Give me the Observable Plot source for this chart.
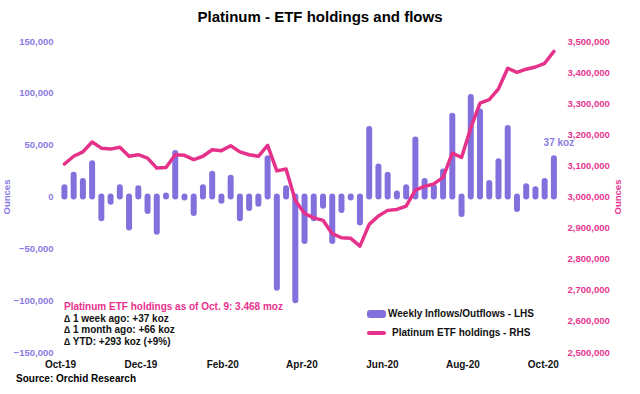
<!DOCTYPE html>
<html>
<head>
<meta charset="utf-8">
<script src="https://cdn.jsdelivr.net/npm/d3@7"></script>
<script src="https://cdn.jsdelivr.net/npm/@observablehq/plot@0.6"></script>
<style>
  body { margin: 0; background: #fff; font-family: "Liberation Sans", Arial, sans-serif; }
  #wrap { position: relative; width: 640px; height: 394px; overflow: hidden; }
  #title { height: 34px; line-height: 34px; text-align: center; font-weight: bold; font-size: 15px; color: #000; }
  #source { position: absolute; left: 16px; top: 373px; font-weight: bold; font-size: 10px; color: #000; line-height: 12px; }
  .ann { position: absolute; left: 64px; top: 301px; font-weight: bold; font-size: 10px; line-height: 11.7px; color: #111; }
  .ann .hl { color: #e8318d; }
  .lg { position: absolute; font-weight: bold; font-size: 10px; color: #111; line-height: 12px; }
  .sw1 { position: absolute; left: 367px; top: 310px; width: 19px; height: 8px; border-radius: 3px; background: #8470dd; }
  .sw2 { position: absolute; left: 367px; top: 331px; width: 19px; height: 4px; border-radius: 2px; background: #e5318a; }
  svg text { font-weight: bold; }
</style>
</head>
<body>
<div id="wrap">
  <div id="title">Platinum - ETF holdings and flows</div>
  <div id="chart"></div>
  <div class="ann"><span class="hl">Platinum ETF holdings as of Oct. 9: 3.468 moz</span><br>∆ 1 week ago: +37 koz<br>∆ 1 month ago: +66 koz<br>∆ YTD: +293 koz (+9%)</div>
  <div class="sw1"></div>
  <div class="lg" style="left:388px; top:308px;">Weekly Inflows/Outflows - LHS</div>
  <div class="sw2"></div>
  <div class="lg" style="left:392px; top:327px;">Platinum ETF holdings - RHS</div>
  <div id="source">Source: Orchid Research</div>
</div>
<script>
// Weekly dates (Fridays)
const weeks = [
  "2019-10-04","2019-10-11","2019-10-18","2019-10-25","2019-11-01","2019-11-08","2019-11-15","2019-11-22","2019-11-29",
  "2019-12-06","2019-12-13","2019-12-20","2019-12-27","2020-01-03","2020-01-10","2020-01-17","2020-01-24","2020-01-31",
  "2020-02-07","2020-02-14","2020-02-21","2020-02-28","2020-03-06","2020-03-13","2020-03-20","2020-03-27",
  "2020-04-03","2020-04-10","2020-04-17","2020-04-24","2020-05-01","2020-05-08","2020-05-15","2020-05-22","2020-05-29",
  "2020-06-05","2020-06-12","2020-06-19","2020-06-26","2020-07-03","2020-07-10","2020-07-17","2020-07-24","2020-07-31",
  "2020-08-07","2020-08-14","2020-08-21","2020-08-28","2020-09-04","2020-09-11","2020-09-18","2020-09-25",
  "2020-10-02","2020-10-09"
];
// Weekly inflows/outflows (ounces, LHS)
const flows = [
  9000, 21000, 15000, 32000, -21000, -5000, 9000, -30000, 8000, -14000,
  -34000, 1000, 42000, -1000, -16000, 9000, 22000, -4000, 18000, -21000,
  -11000, -7000, 37000, -88000, 8000, -100000, -43000, -21000, -9000, -43000,
  -13000, -1000, -25000, 65000, 29000, 21000, 3000, 9000, 55000, 15000,
  9000, 24000, 78000, -17000, 96000, 82000, 13000, 34000, 66000, -12000,
  10000, 7000, 15000, 37000
];
// Platinum ETF holdings (ounces, RHS)
const holdings = [
  3106000, 3131000, 3145000, 3177000, 3157000, 3154000, 3160000, 3131000, 3136000, 3125000,
  3093000, 3095000, 3136000, 3134000, 3120000, 3131000, 3152000, 3149000, 3165000, 3145000,
  3136000, 3131000, 3166000, 3084000, 3090000, 2989000, 2947000, 2933000, 2925000, 2882000,
  2869000, 2867000, 2842000, 2912000, 2939000, 2957000, 2960000, 2971000, 3022000, 3034000,
  3042000, 3063000, 3141000, 3127000, 3222000, 3302000, 3313000, 3348000, 3414000, 3401000,
  3411000, 3418000, 3430000, 3468000
];
const leftTicks = [-150000, -100000, -50000, 0, 50000, 100000, 150000];
const rightTicks = [2500000, 2600000, 2700000, 2800000, 2900000, 3000000, 3100000, 3200000, 3300000, 3400000, 3500000];
const xTickDates = ["2019-10-01","2019-12-01","2020-02-01","2020-04-01","2020-06-01","2020-08-01","2020-10-01"];
const xTickLabels = ["Oct-19","Dec-19","Feb-20","Apr-20","Jun-20","Aug-20","Oct-20"];

const purple = "#8470dd";
const purpleText = "#8a7be3";
const pink = "#e5318a";
const pinkText = "#e8358f";

const L0 = leftTicks[0], L1 = leftTicks[leftTicks.length - 1];
const R0 = rightTicks[0], R1 = rightTicks[rightTicks.length - 1];
const toLeft = r => L0 + (r - R0) * (L1 - L0) / (R1 - R0);
const toRight = l => R0 + (l - L0) * (R1 - R0) / (L1 - L0);

const rows = weeks.map((w, i) => ({date: new Date(w), flow: flows[i], h: holdings[i], hy: toLeft(holdings[i])}));
const last = rows[rows.length - 1];
const xLabelMap = new Map(xTickDates.map((d, i) => [+new Date(d), xTickLabels[i]]));
const fmt = d3.format(",");

const chart = Plot.plot({
  width: 640,
  height: 340,
  marginTop: 7,
  marginBottom: 22,
  marginLeft: 56,
  marginRight: 80,
  x: {type: "utc", domain: [new Date("2019-09-28"), new Date("2020-10-14")]},
  y: {domain: [L0, L1]},
  style: {fontFamily: "'Liberation Sans', Arial, sans-serif", fontSize: "10px", background: "white", overflow: "visible"},
  marks: [
    Plot.ruleX(rows, {x: "date", y1: 0, y2: "flow", stroke: purple, strokeWidth: 6, strokeLinecap: "round"}),
    Plot.line(rows, {x: "date", y: "hy", stroke: pink, strokeWidth: 3.5, strokeLinejoin: "round", strokeLinecap: "round"}),
    Plot.axisY({anchor: "left", ticks: leftTicks, tickSize: 0, tickPadding: 3, tickFormat: fmt, color: purpleText, fontSize: 9.5, label: null}),
    Plot.axisY({anchor: "right", ticks: rightTicks.map(toLeft), tickSize: 0, tickPadding: 7, tickFormat: v => fmt(Math.round(toRight(v))), color: pinkText, fontSize: 9.5, label: null}),
    Plot.axisX({ticks: xTickDates.map(d => new Date(d)), tickSize: 0, tickPadding: 8, tickFormat: d => xLabelMap.get(+d), color: "#111", fontSize: 10, label: null}),
    Plot.text(["Ounces"], {frameAnchor: "left", textAnchor: "middle", lineAnchor: "middle", rotate: -90, dx: -50, fill: purpleText, fontSize: 9.5}),
    Plot.text(["Ounces"], {frameAnchor: "right", textAnchor: "middle", lineAnchor: "middle", rotate: -90, dx: 57, fill: pinkText, fontSize: 9.5}),
    Plot.text([last], {x: "date", y: "flow", text: d => `${Math.round(d.flow / 1000)} koz`, dy: -16, dx: 5, fill: purpleText, fontSize: 10})
  ]
});
document.getElementById("chart").appendChild(chart);
</script>
</body>
</html>
